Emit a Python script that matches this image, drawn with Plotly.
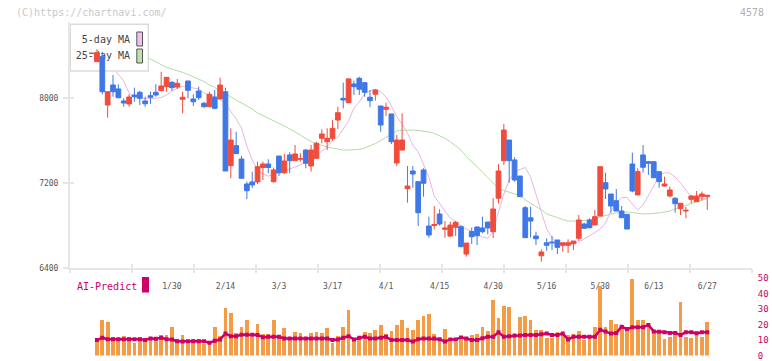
import plotly.graph_objects as go

# ---------------- data ----------------
dates = ["1/8", "1/9", "1/10", "1/14", "1/15", "1/16", "1/17", "1/20", "1/21", "1/22", "1/23", "1/24",
         "1/27", "1/28", "1/29", "1/30", "1/31", "2/3", "2/4", "2/5", "2/6", "2/7", "2/10", "2/12",
         "2/13", "2/14", "2/17", "2/18", "2/19", "2/20", "2/21", "2/25", "2/26", "2/27", "2/28",
         "3/3", "3/4", "3/5", "3/6", "3/7", "3/10", "3/11", "3/12", "3/13", "3/14", "3/17", "3/18",
         "3/19", "3/21", "3/24", "3/25", "3/26", "3/27", "3/28", "3/31", "4/1", "4/2", "4/3", "4/4",
         "4/7", "4/8", "4/9", "4/10", "4/11", "4/14", "4/15", "4/16", "4/17", "4/18", "4/21", "4/22",
         "4/23", "4/24", "4/25", "4/28", "4/30", "5/1", "5/2", "5/7", "5/8", "5/9", "5/12", "5/13",
         "5/14", "5/15", "5/16", "5/19", "5/20", "5/21", "5/22", "5/23", "5/26", "5/27", "5/28",
         "5/29", "5/30", "6/2", "6/3", "6/4", "6/5", "6/6", "6/9", "6/10", "6/11", "6/12", "6/13",
         "6/16", "6/17", "6/18", "6/19", "6/20", "6/23", "6/24", "6/25", "6/26", "6/27"]

opens = [8420, 8341, 8388, 7934, 8122, 8085, 7972, 7944, 8028, 8054, 7972, 8022, 8054, 8069, 8106,
         8147, 8103, 7988, 8160, 7991, 8066, 7950, 7918, 8009, 7991, 8059, 7364, 7552, 7427, 7192,
         7211, 7211, 7347, 7380, 7214, 7455, 7298, 7465, 7411, 7425, 7511, 7361, 7433, 7621, 7589,
         7621, 7793, 7997, 7956, 8132, 8185, 8144, 8007, 8035, 7925, 7894, 7850, 7389, 7511, 7148,
         7314, 7214, 7324, 6797, 6802, 6910, 6766, 6703, 6785, 6791, 6534, 6746, 6788, 6779, 6835,
         6744, 7058, 7411, 7605, 7418, 7267, 6969, 6875, 6703, 6518, 6640, 6647, 6666, 6616, 6616,
         6631, 6682, 6816, 6854, 6807, 6891, 7204, 7098, 7035, 6938, 6907, 7380, 7089, 7465, 7402,
         7402, 7308, 7173, 7079, 7058, 6960, 6938, 7048, 7026, 7073, 7073]
highs = [8425, 8460, 8435, 8059, 8216, 8129, 7997, 8035, 8097, 8066, 8012, 8059, 8129, 8247, 8194,
         8160, 8179, 8059, 8160, 8035, 8106, 7965, 8059, 8075, 8191, 8097, 7715, 7683, 7455, 7214,
         7308, 7402, 7402, 7424, 7347, 7455, 7474, 7490, 7558, 7480, 7521, 7558, 7589, 7706, 7715,
         7793, 7918, 8144, 8185, 8163, 8200, 8144, 8075, 8082, 7925, 7956, 7850, 7652, 7856, 7361,
         7361, 7214, 7340, 6885, 6985, 6954, 6844, 6838, 6847, 6806, 6637, 6783, 6793, 6885, 6835,
         7061, 7378, 7756, 7605, 7443, 7267, 6985, 6978, 6744, 6578, 6682, 6703, 6666, 6640, 6672,
         6656, 6901, 6828, 6869, 6948, 7355, 7298, 7098, 7145, 6985, 6907, 7486, 7340, 7558, 7408,
         7402, 7314, 7261, 7167, 7067, 7011, 6979, 7089, 7126, 7120, 7086]
lows = [8415, 8341, 8035, 7815, 8012, 7997, 7918, 7918, 7965, 7934, 7918, 7946, 8012, 8069, 8059,
        8066, 8085, 7856, 7997, 7925, 7981, 7909, 7918, 7894, 7991, 7314, 7246, 7477, 7246, 7051,
        7154, 7192, 7230, 7293, 7204, 7267, 7286, 7293, 7411, 7402, 7340, 7308, 7433, 7574, 7511,
        7599, 7709, 7903, 7950, 8028, 8028, 8012, 7913, 7975, 7683, 7831, 7568, 7361, 7511, 7016,
        7157, 6797, 7073, 6688, 6766, 6802, 6688, 6697, 6703, 6603, 6509, 6628, 6619, 6729, 6719,
        6685, 7009, 7371, 7204, 7214, 7073, 6688, 6688, 6619, 6462, 6565, 6572, 6534, 6556, 6543,
        6572, 6657, 6769, 6776, 6807, 6891, 7051, 6922, 6938, 6875, 6769, 7114, 7089, 7298, 7277,
        7251, 7157, 7167, 7067, 6922, 6901, 6870, 7011, 7026, 7035, 6948]
closes = [8420, 8426, 8059, 8059, 8059, 8003, 7953, 8009, 8012, 7997, 7946, 8007, 8028, 8113, 8194,
          8097, 8138, 8007, 8072, 7965, 8003, 7918, 8035, 7903, 8122, 7314, 7605, 7477, 7246, 7129,
          7183, 7355, 7380, 7347, 7324, 7298, 7408, 7411, 7474, 7430, 7387, 7511, 7574, 7662, 7621,
          7715, 7862, 7981, 8179, 8106, 8082, 8054, 7975, 8075, 7746, 7913, 7589, 7605, 7605, 7173,
          7286, 6922, 7199, 6713, 6812, 6816, 6779, 6806, 6832, 6603, 6637, 6697, 6706, 6744, 6779,
          6957, 7314, 7699, 7411, 7230, 7073, 6688, 6844, 6678, 6553, 6616, 6640, 6597, 6640, 6640,
          6656, 6854, 6776, 6781, 6885, 7355, 7145, 6985, 6938, 6875, 6769, 7126, 7308, 7349, 7387,
          7251, 7214, 7192, 7136, 7007, 7011, 6945, 7079, 7079, 7098, 7086]

ma5 = [8451, 8404, 8348, 8301, 8282, 8225, 8160, 8047, 8009, 7997, 7997, 7997, 7997, 8005, 8028,
       8066, 8094, 8108, 8103, 8094, 8085, 8047, 8028, 8005, 7988, 7944, 7878, 7803, 7718, 7549,
       7418, 7324, 7286, 7267, 7277, 7295, 7319, 7338, 7355, 7371, 7399, 7418, 7460, 7502, 7540,
       7601, 7634, 7709, 7784, 7906, 7962, 8038, 8070, 8082, 8061, 8009, 7925, 7824, 7756, 7671,
       7558, 7493, 7380, 7258, 7079, 7004, 6938, 6873, 6835, 6797, 6769, 6746, 6718, 6694, 6682,
       6744, 6929, 7098, 7230, 7305, 7328, 7347, 7258, 7089, 6938, 6769, 6689, 6638, 6624, 6624,
       6633, 6647, 6675, 6703, 6736, 6769, 6826, 6938, 7013, 7065, 7065, 7004, 6948, 6995, 7079,
       7173, 7277, 7298, 7295, 7258, 7201, 7136, 7070, 7058, 7053, 7051]
ma25 = [8601, 8573, 8545, 8517, 8498, 8470, 8451, 8432, 8413, 8395, 8381, 8366, 8338, 8310, 8287,
        8272, 8258, 8240, 8221, 8197, 8179, 8155, 8122, 8099, 8066, 8038, 8009, 7981, 7948, 7925,
        7897, 7859, 7836, 7807, 7789, 7765, 7737, 7709, 7683, 7652, 7620, 7591, 7572, 7554, 7540,
        7530, 7521, 7511, 7511, 7514, 7518, 7530, 7549, 7572, 7601, 7629, 7662, 7690, 7697, 7699,
        7699, 7695, 7690, 7681, 7668, 7648, 7621, 7589, 7554, 7511, 7450, 7403, 7361, 7305, 7253,
        7201, 7150, 7131, 7117, 7103, 7084, 7046, 7009, 6981, 6952, 6910, 6896, 6877, 6859, 6844,
        6844, 6844, 6849, 6854, 6868, 6887, 6901, 6910, 6920, 6924, 6929, 6924, 6915, 6910, 6912,
        6915, 6920, 6929, 6938, 6957, 6976, 6995, 7009, 7023, 7042, 7058]

# AI-Predict panel (starts one session after the first candle)
ai_bars = [11.5, 22.7, 21.5, 12.1, 10.6, 12.7, 11.7, 8.3, 11.7, 10.6, 12.1, 11.2, 13.3, 13.3, 18.3,
           10.4, 13.3, 9.2, 10.4, 10.4, 7.3, 9.2, 18.3, 12.7, 30.8, 27.7, 14.6, 18.3, 22.7, 12.1,
           20.2, 14.0, 14.0, 22.7, 11.2, 17.7, 12.1, 15.2, 14.6, 12.1, 14.6, 15.2, 14.6, 17.7, 8.3,
           12.7, 18.3, 29.6, 10.8, 12.1, 15.2, 14.6, 16.5, 19.6, 14.0, 15.8, 19.6, 22.7, 17.7, 16.5,
           23.3, 25.8, 27.1, 14.0, 10.8, 17.1, 9.0, 9.0, 10.2, 10.8, 13.3, 14.0, 18.3, 15.8, 35.8,
           24.6, 32.1, 31.5, 14.0, 25.2, 25.8, 23.3, 16.5, 16.5, 11.5, 11.5, 15.2, 14.0, 13.3, 14.0,
           15.8, 10.2, 11.5, 18.3, 45.2, 18.3, 22.7, 20.2, 19.6, 18.3, 49.6, 23.3, 23.3, 19.6, 16.5,
           14.6, 10.8, 12.1, 13.3, 34.6, 12.1, 11.5, 14.6, 12.1, 21.5]
ai_line = [10.0, 11.5, 10.6, 10.6, 10.6, 10.6, 10.6, 10.6, 10.6, 10.0, 11.0, 10.8, 11.5, 10.6, 10.4,
           9.2, 9.0, 9.2, 9.2, 9.2, 9.2, 8.3, 9.6, 10.4, 14.2, 12.5, 12.5, 13.5, 13.5, 13.5,
           13.3, 11.8, 12.1, 12.1, 12.1, 11.0, 11.0, 11.0, 11.0, 11.0, 11.0, 11.0, 11.0, 11.0, 10.0,
           10.4, 11.5, 12.5, 10.4, 11.5, 12.1, 11.0, 11.0, 11.5, 12.1, 10.0, 10.0, 10.0, 10.0, 9.0,
           10.6, 11.0, 11.0, 11.0, 10.6, 9.0, 10.4, 10.4, 11.7, 11.0, 10.0, 10.0, 11.2, 12.1, 12.1,
           15.0, 12.1, 12.5, 12.9, 12.9, 13.3, 13.3, 13.3, 13.8, 14.2, 13.3, 13.3, 14.2, 10.4, 12.1,
           12.1, 12.1, 12.1, 12.1, 16.7, 15.5, 14.2, 14.6, 18.7, 17.1, 18.3, 18.3, 18.3, 19.8, 15.6,
           15.4, 15.0, 14.6, 14.6, 13.3, 15.0, 15.0, 14.4, 15.0, 15.0]
ai_dates = dates[1:]

tick_labels = ["1/30", "2/14", "3/3", "3/17", "4/1", "4/15", "4/30", "5/16", "5/30", "6/13", "6/27"]
price_ticks = [6400, 7200, 8000]
ai_ticks = [0, 10, 20, 30, 40, 50]

# ---------------- styling / layout ----------------
W, H = 772, 361
FONT = "DejaVu Sans Mono"
RED, BLUE = "#f04c3c", "#3f78e6"
PINK, GREEN = "#e9b3ea", "#b3dba5"
MAGENTA, ORANGE = "#cc0066", "#f39b45"
AXIS = "#e6e6e6"

PX_L, PX_R = 70, 752           # plot left / right (pixels)
PX_TOP, PX_BOT = 22, 268.3     # main plot top / bottom
X_RANGE = [-4.033, 123.35]     # category-index range
Y_RANGE = [6400, 8714]
AI_TOP, AI_BOT = 270, 355.5
AI_RANGE = [0, 55.4]

xdom = [PX_L / W, PX_R / W]
ydom = [1 - PX_BOT / H, 1 - PX_TOP / H]
aidom = [1 - AI_BOT / H, 1 - AI_TOP / H]

fig = go.Figure()

# moving averages (main subplot, drawn first: below the legend box)
fig.add_trace(go.Scatter(x=dates, y=ma25, mode="lines", line=dict(color=GREEN, width=1),
                         xaxis="x", yaxis="y", hoverinfo="skip"))
fig.add_trace(go.Scatter(x=dates, y=ma5, mode="lines", line=dict(color=PINK, width=1),
                         xaxis="x", yaxis="y", hoverinfo="skip"))

# legend box (overlay in pixel coordinates, above the MA lines, below candles)
lx0, lx1, ly0, ly1 = 70.3, 148.3, 24.3, 71
fig.add_trace(go.Scatter(x=[lx0, lx1, lx1, lx0, lx0], y=[ly0, ly0, ly1, ly1, ly0], mode="lines",
                         fill="toself", fillcolor="white", line=dict(color="#dcdcdc", width=1.5),
                         xaxis="x2", yaxis="y2", hoverinfo="skip"))
for (yc, col) in [(39, "#f0c0f0"), (56, "#c0e0b0")]:
    fig.add_trace(go.Scatter(x=[136.8, 142.5, 142.5, 136.8, 136.8],
                             y=[yc - 7, yc - 7, yc + 7, yc + 7, yc - 7], mode="lines",
                             fill="toself", fillcolor=col, line=dict(color="#555555", width=1),
                             xaxis="x2", yaxis="y2", hoverinfo="skip"))
fig.add_trace(go.Scatter(x=[130, 130], y=[40, 56.5], mode="text", text=["5-day MA", "25-day MA"],
                         textposition="middle left", textfont=dict(family=FONT, size=10, color="#444"),
                         xaxis="x2", yaxis="y2", hoverinfo="skip"))

# candles (top overlay)
fig.add_trace(go.Candlestick(x=dates, open=opens, high=highs, low=lows, close=closes,
                             increasing=dict(line=dict(color=RED, width=1), fillcolor=RED),
                             decreasing=dict(line=dict(color=BLUE, width=1), fillcolor=BLUE),
                             whiskerwidth=0, xaxis="x3", yaxis="y3", hoverinfo="skip"))

# AI-Predict panel
fig.add_trace(go.Bar(x=ai_dates, y=ai_bars, width=0.7, marker=dict(color=ORANGE, line=dict(width=0)),
                     xaxis="x4", yaxis="y4", hoverinfo="skip"))
fig.add_trace(go.Scatter(x=ai_dates, y=ai_line, mode="lines+markers",
                         line=dict(color=MAGENTA, width=2.5),
                         marker=dict(color=MAGENTA, size=4, symbol="square"),
                         xaxis="x4", yaxis="y4", hoverinfo="skip"))

grid_frac = [k / 11 for k in range(12)]
grid_cat = [X_RANGE[0] + (X_RANGE[1] - X_RANGE[0]) * f for f in grid_frac]
grid_px = [PX_L + (PX_R - PX_L) * f for f in grid_frac]

cat_axis = dict(type="category", categoryorder="array", categoryarray=dates, range=X_RANGE,
                domain=xdom, showgrid=False, zeroline=False, fixedrange=True)

fig.update_layout(
    width=W, height=H, margin=dict(l=0, r=0, t=0, b=0, autoexpand=False),
    paper_bgcolor="white", plot_bgcolor="white", showlegend=False,
    boxgap=0.12, boxgroupgap=0, bargap=0,
    xaxis=dict(**cat_axis, anchor="y", showline=True, linecolor=AXIS, linewidth=2,
               ticks="", tickmode="array", tickvals=tick_labels, ticktext=tick_labels,
               tickfont=dict(family=FONT, size=8, color="#555"), ticklabelstandoff=9),
    yaxis=dict(domain=ydom, range=Y_RANGE, anchor="x", showline=True, linecolor=AXIS, linewidth=2,
               showgrid=False, zeroline=False, ticks="outside", ticklen=5, tickwidth=2, tickcolor=AXIS,
               tickmode="array", tickvals=price_ticks, tickformat="d",
               tickfont=dict(family=FONT, size=8, color="#555"), ticklabelstandoff=3, fixedrange=True),
    xaxis2=dict(overlaying="x", anchor="y2", range=[PX_L, PX_R], domain=xdom, showgrid=False,
                zeroline=False, showline=False, showticklabels=False, ticks="outside", ticklen=4,
                tickwidth=2, tickcolor=AXIS, tickmode="array", tickvals=grid_px, fixedrange=True),
    yaxis2=dict(overlaying="y", anchor="x2", range=[PX_BOT, PX_TOP], domain=ydom, visible=False,
                fixedrange=True),
    xaxis3=dict(**cat_axis, overlaying="x", anchor="y3", showline=False, showticklabels=False,
                ticks="inside", ticklen=4, tickwidth=2, tickcolor=AXIS, tickmode="array",
                tickvals=grid_cat, rangeslider=dict(visible=False)),
    yaxis3=dict(overlaying="y", anchor="x3", range=Y_RANGE, domain=ydom, showgrid=False,
                zeroline=False, showline=False, showticklabels=False, ticks="inside", ticklen=4,
                tickwidth=2, tickcolor=AXIS, tickmode="array", tickvals=price_ticks, fixedrange=True),
    xaxis4=dict(**cat_axis, anchor="y4", visible=False),
    yaxis4=dict(domain=aidom, range=AI_RANGE, anchor="x4", side="right", showgrid=False,
                zeroline=False, showline=False, ticks="outside", ticklen=3, tickcolor="rgba(0,0,0,0)",
                tickmode="array", tickvals=ai_ticks, ticklabeloverflow="allow",
                tickfont=dict(family=FONT, size=9, color=MAGENTA), fixedrange=True),
    annotations=[
        dict(text="(C)https://chartnavi.com/", xref="paper", yref="paper", x=14 / W, y=1 - 12.5 / H,
             xanchor="left", yanchor="middle", showarrow=False,
             font=dict(family=FONT, size=10, color="#c8c8c8")),
        dict(text="4578", xref="paper", yref="paper", x=766 / W, y=1 - 12.5 / H,
             xanchor="right", yanchor="middle", showarrow=False,
             font=dict(family=FONT, size=10, color="#b0b0b0")),
        dict(text="AI-Predict", xref="paper", yref="paper", x=75 / W, y=1 - 286 / H,
             xanchor="left", yanchor="middle", showarrow=False,
             font=dict(family=FONT, size=10, color=MAGENTA)),
    ],
    shapes=[dict(type="rect", xref="paper", yref="paper", x0=142 / W, x1=149 / W,
                 y0=1 - 292.5 / H, y1=1 - 277 / H, fillcolor=MAGENTA, line=dict(width=0))],
)

fig.write_html("out.html", config={"displayModeBar": False},
               post_script="document.body.style.margin='0';")
